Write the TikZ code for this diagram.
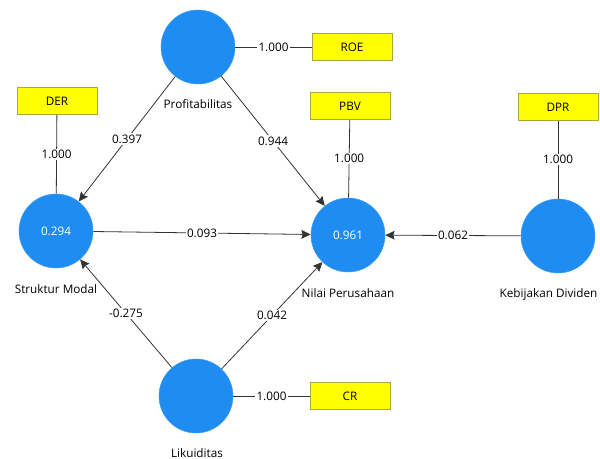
\documentclass[tikz,border=0pt]{standalone}
\usepackage{fontspec}
\setmainfont{Open Sans}
\usetikzlibrary{arrows.meta, positioning}
\definecolor{lvfill}{HTML}{1E8CF0}
\definecolor{indfill}{HTML}{FFFF00}
\definecolor{inddraw}{HTML}{A8A840}
\definecolor{pathdraw}{HTML}{333333}
\tikzset{
  txt/.style={font=\fontsize{8.8}{10}\selectfont},
  lv/.style={circle, txt, fill=lvfill, draw=lvfill!85, minimum size=55.5pt, inner sep=0pt, text=white},
  ind/.style={rectangle, txt, fill=indfill, draw=inddraw, line width=0.4pt, minimum width=60pt, minimum height=20.25pt, inner sep=0pt},
  lvname/.style={txt, inner sep=1pt},
  lab/.style={txt, fill=white, inner sep=1pt},
  load/.style={line width=0.6pt, draw=pathdraw},
  arr/.style={-{Stealth[length=7pt, width=6.5pt, inset=1pt]}, line width=0.6pt, draw=pathdraw},
}

\begin{document}
\begin{tikzpicture}[x=0.75pt, y=-0.75pt]
  \useasboundingbox (0,0) rectangle (600,459);
  \node[lv] (pro) at (198,47)  {};
  \node[lv] (sm)  at (56,231)  {0.294};
  \node[lv] (np)  at (348,235) {0.961};
  \node[lv] (kd)  at (558,236) {};
  \node[lv] (lk)  at (196,396) {};
  \node[lvname] (pro_t) at (198,104) {Profitabilitas};
  \node[lvname] (sm_t)  at (56,289)  {Struktur Modal};
  \node[lvname] (np_t)  at (348,293) {Nilai Perusahaan};
  \node[lvname, anchor=east] (kd_t) at (599,294) {Kebijakan Dividen};
  \node[lvname] (lk_t)  at (197,453) {Likuiditas};
  \node[ind] (roe) at (352,47)  {ROE};
  \node[ind] (der) at (57,101)  {DER};
  \node[ind] (pbv) at (350,106) {PBV};
  \node[ind] (dpr) at (558,107) {DPR};
  \node[ind] (cr)  at (350,396) {CR};
  \draw[load] (pro) -- node[lab]{1.000} (roe);
  \draw[load] (der) -- node[lab]{1.000} (sm);
  \draw[load] (pbv) -- node[lab]{1.000} (np);
  \draw[load] (dpr) -- node[lab]{1.000} (kd);
  \draw[load] (lk)  -- node[lab]{1.000} (cr);
  \draw[arr] (pro) -- node[lab]{0.397} (sm);
  \draw[arr] (pro) -- node[lab]{0.944} (np);
  \draw[arr] (sm)  -- node[lab]{0.093} (np);
  \draw[arr] (kd)  -- node[lab]{0.062} (np);
  \draw[arr] (lk)  -- node[lab]{-0.275} (sm);
  \draw[arr] (lk)  -- node[lab]{0.042} (np);
\end{tikzpicture}
\end{document}
